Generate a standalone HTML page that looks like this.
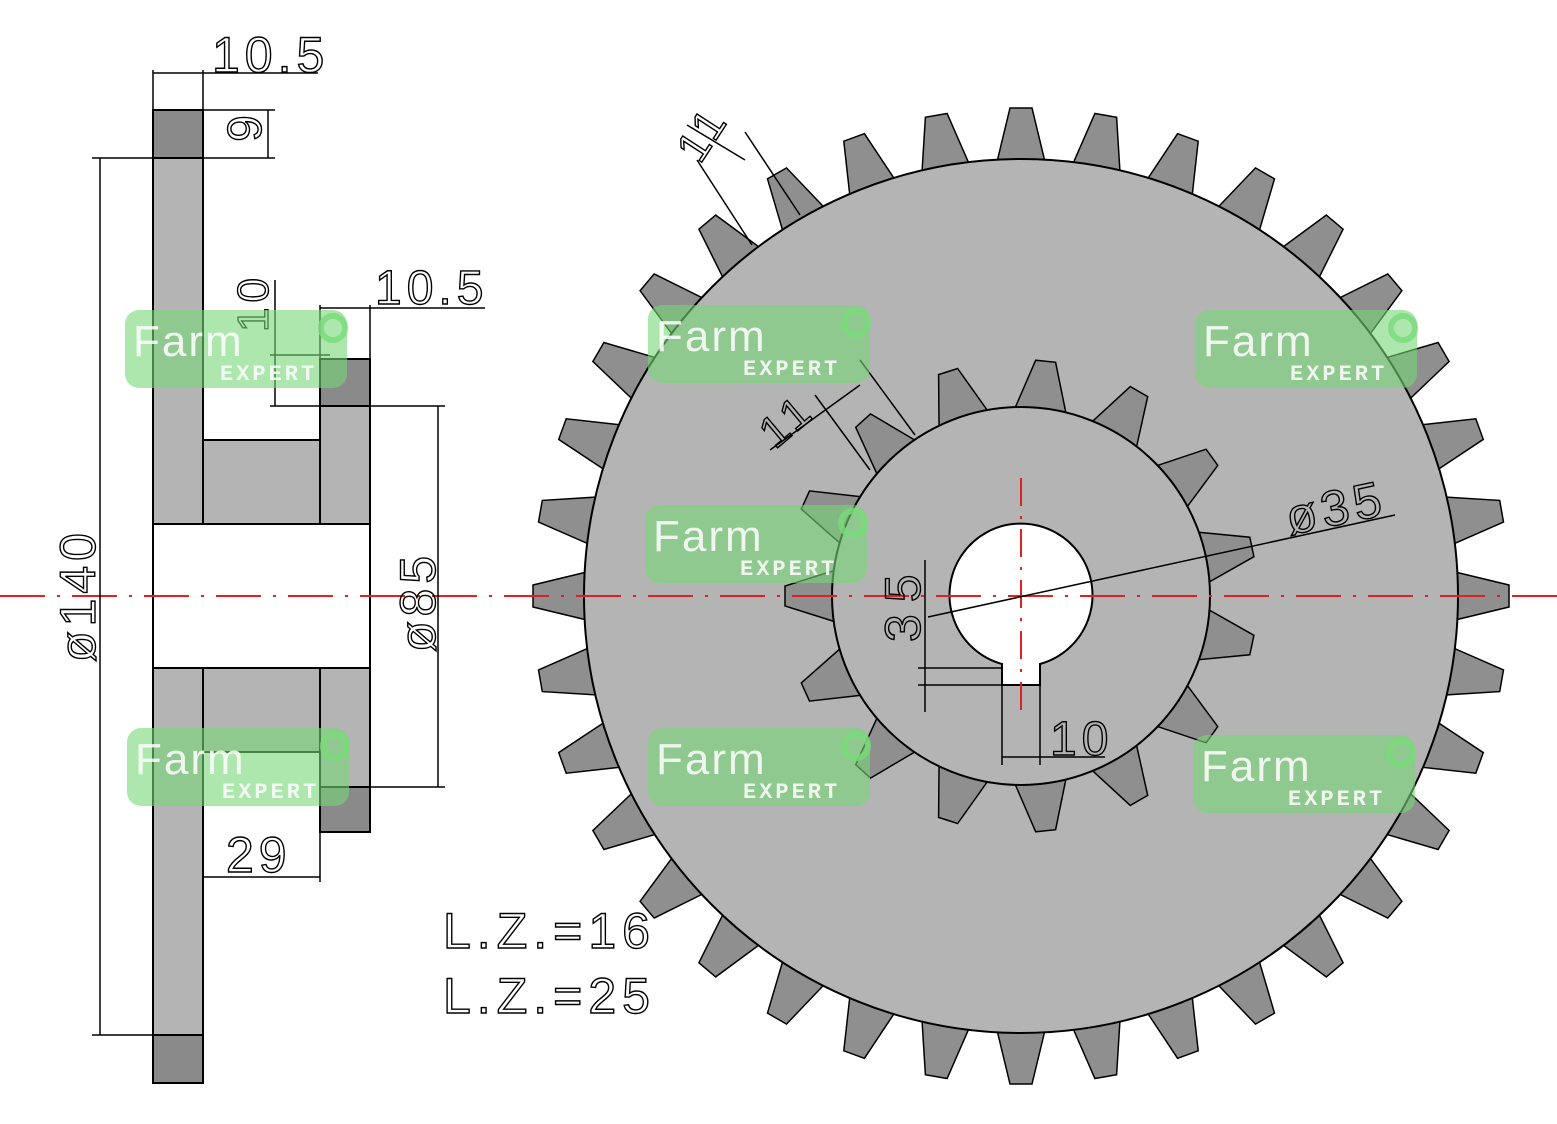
<!DOCTYPE html>
<html><head><meta charset="utf-8"><style>
html,body{margin:0;padding:0;background:#fff;}
svg{display:block;}
.t{font-family:"Liberation Sans",sans-serif;fill:none;stroke:#000;stroke-width:1.4;letter-spacing:5px}
.wm1{font-family:"Liberation Sans",sans-serif;font-size:44px;fill:#fff;opacity:.85;letter-spacing:2px}
.wm2{font-family:"Liberation Mono",monospace;font-size:22px;font-weight:bold;fill:#fff;opacity:.85;letter-spacing:3px}
</style></head><body>
<svg id="s" width="1557" height="1124" viewBox="0 0 1557 1124" xmlns="http://www.w3.org/2000/svg">
<g id="bigteeth" fill="#8f8f8f" stroke="#000" stroke-width="1.5"></g>
<circle cx="1021" cy="596" r="437" fill="#b4b4b4" stroke="#000" stroke-width="2"/>
<g id="smallteeth" fill="#8f8f8f" stroke="#000" stroke-width="1.5"></g>
<circle cx="1021" cy="596" r="189" fill="#b4b4b4" stroke="#000" stroke-width="2"/>
<path d="M1002,664 A71.5,71.5 0 1 1 1040,664 L1040,685 L1002,685 Z" fill="#fff" stroke="#000" stroke-width="2"/>

<g stroke="#000" stroke-width="2">
<rect x="153" y="110" width="50" height="414" fill="#b4b4b4"/>
<rect x="153" y="110" width="50" height="48" fill="#8a8a8a"/>
<rect x="153" y="668" width="50" height="415" fill="#b4b4b4"/>
<rect x="153" y="1035" width="50" height="48" fill="#8a8a8a"/>
<rect x="203" y="440" width="117" height="84" fill="#b4b4b4"/>
<rect x="203" y="668" width="117" height="84" fill="#b4b4b4"/>
<rect x="320" y="359" width="50" height="165" fill="#b4b4b4"/>
<rect x="320" y="359" width="50" height="47" fill="#8a8a8a"/>
<rect x="320" y="668" width="50" height="164" fill="#b4b4b4"/>
<rect x="320" y="787" width="50" height="45" fill="#8a8a8a"/>
<rect x="153" y="524" width="217" height="144" fill="#fff"/>
</g>

<line x1="0" y1="596" x2="1557" y2="596" stroke="#d22" stroke-width="2" stroke-dasharray="45,12,3,12"/>
<line x1="1021" y1="478" x2="1021" y2="718" stroke="#d22" stroke-width="2" stroke-dasharray="28,10,3,10"/>

<g stroke="#000" stroke-width="1.5" fill="none">
<path d="M153,70V110 M203,70V110 M153,73H318"/>
<path d="M203,110H275 M203,158H275 M268,110V158"/>
<path d="M270,355H330 M270,406H320 M275,280V406"/>
<path d="M320,305V360 M370,305V360 M320,308H485"/>
<path d="M92,158H153 M92,1035H153 M100,158V1035"/>
<path d="M370,406H445 M370,787H445 M438,406V787"/>
<path d="M320,832V882 M203,877H320"/>
<path d="M925,560V712 M918,668H1002 M918,685H1002"/>
<path d="M1002,685V765 M1040,685V765 M1002,757H1105"/>
<path d="M928,617L1395,515"/>
<path d="M752,245L697,160 M800,215L745,132 M687,125L745,160"/>
<path d="M870,470L815,395 M915,435L860,360 M770,450L860,385"/>
</g>

<text class="t" x="212" y="72" font-size="50">10.5</text>
<text class="t" x="375" y="304" font-size="48">10.5</text>
<text class="t" font-size="48" transform="translate(228,115) rotate(90)">6</text>
<text class="t" font-size="44" transform="translate(268,332) rotate(-90)">10</text>
<text class="t" font-size="50" transform="translate(95,662) rotate(-90)">ø140</text>
<text class="t" font-size="50" transform="translate(435,652) rotate(-90)">ø85</text>
<text class="t" x="226" y="872" font-size="50">29</text>
<text class="t" x="443" y="948" font-size="50" style="letter-spacing:6px">L.Z.=16</text>
<text class="t" x="443" y="1013" font-size="50" style="letter-spacing:6px">L.Z.=25</text>
<text class="t" font-size="50" transform="translate(920,642) rotate(-90)" style="letter-spacing:12px">35</text>
<text class="t" x="1050" y="755" font-size="48">10</text>
<text class="t" font-size="50" transform="translate(1290,535) rotate(-12)">ø35</text>
<text class="t" font-size="44" transform="translate(700,165) rotate(-57)">11</text>
<text class="t" font-size="44" transform="translate(775,450) rotate(-40)">11</text>

<g id="wms"></g>
</svg>
<script>
var NS="http://www.w3.org/2000/svg";
function teeth(g,n,start,step,rb,rt,hb,ht){
  var G=document.getElementById(g);
  for(var k=0;k<n;k++){
    var a=(start+step*k)*Math.PI/180;
    var ux=Math.sin(a),uy=-Math.cos(a),px=Math.cos(a),py=Math.sin(a);
    var cx=1021,cy=596;
    var pts=[[rb,-hb],[rt,-ht],[rt,ht],[rb,hb]].map(function(p){
      return (cx+ux*p[0]+px*p[1]).toFixed(1)+","+(cy+uy*p[0]+py*p[1]).toFixed(1);});
    var e=document.createElementNS(NS,"polygon");e.setAttribute("points",pts.join(" "));G.appendChild(e);
  }
}
teeth("bigteeth",36,0,10,430,488,25,11);
teeth("smallteeth",15,-90,24,182,236,27,10);
var W=document.getElementById("wms");
[[125,310],[648,305],[1195,310],[645,505],[127,728],[648,728],[1193,735]].forEach(function(p){
  var g=document.createElementNS(NS,"g");g.setAttribute("transform","translate("+p[0]+","+p[1]+")");
  g.innerHTML='<rect x="0" y="0" width="222" height="78" rx="14" fill="rgb(120,215,120)" opacity="0.6"/>'+
  '<text class="wm1" x="8" y="46">Farm</text><text class="wm2" x="95" y="70">EXPERT</text>'+
  '<circle cx="208" cy="18" r="12" fill="none" stroke="rgb(120,220,120)" stroke-width="6" opacity="0.8"/>';
  W.appendChild(g);
});
</script>
</body></html>
